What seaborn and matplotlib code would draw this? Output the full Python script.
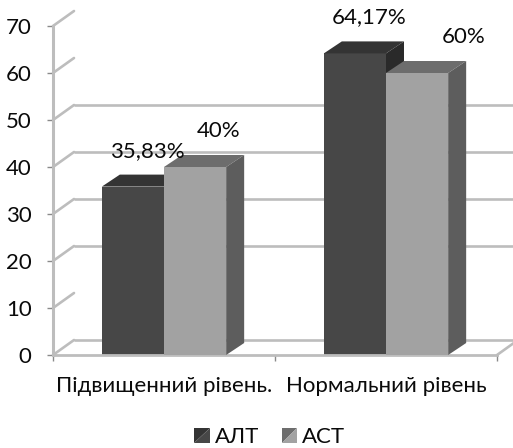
import matplotlib
matplotlib.use("Agg")
import matplotlib.pyplot as plt
from matplotlib.patches import Polygon, Patch
from matplotlib.legend_handler import HandlerBase
import pandas as pd
import seaborn as sns

# Data
levels = ["Підвищенний рівень.", "Нормальний рівень"]
enzymes = ["АЛТ", "АСТ"]
alt_values = [35.83, 64.17]
ast_values = [40.0, 60.0]
y_ticks = [0, 10, 20, 30, 40, 50, 60, 70]
wall_grid = [0, 20, 30, 40, 50]

# Styling
front_colors = ["#474747", "#a2a2a2"]
top_colors = ["#343434", "#6d6d6d"]
side_colors = ["#2a2a2a", "#5d5d5d"]
grid_color = "#bdbdbd"
label_shift_px = [[14, 14], [23, 47]]   # per hue, per category
FS = 16

sns.set_style("white")
plt.rcParams["font.family"] = ["Lato", "DejaVu Sans"]
plt.rcParams["text.color"] = "#0a0a0a"
plt.rcParams["ytick.labelcolor"] = "#0a0a0a"
plt.rcParams["xtick.labelcolor"] = "#0a0a0a"

df = pd.DataFrame({
    "level": levels * 2,
    "enzyme": [enzymes[0]] * len(levels) + [enzymes[1]] * len(levels),
    "value": alt_values + ast_values,
})

W, H = 513, 448
fig = plt.figure(figsize=(W / 100, H / 100), dpi=100)
ax = fig.add_axes([53 / W, (H - 355) / H, 444 / W, 329 / H])

sns.barplot(data=df, x="level", y="value", hue="enzyme", order=levels,
            hue_order=enzymes, palette=front_colors, width=0.56,
            saturation=1, errorbar=None, linewidth=0, legend=False, ax=ax)

ax.set_xlim(-0.5, 1.5)
ax.set_ylim(0, 70)

# pseudo-3D depth (data units)
px_x = 2.0 / 444
px_y = 70.0 / 329
bdx, bdy = 18 * px_x, 12 * px_y     # bar depth
wdx, wdy = 21 * px_x, 15 * px_y     # back wall offset

# back wall gridlines, left wall connectors and floor
for v in wall_grid:
    ax.plot([-0.5 + wdx, 1.5 + wdx], [v + wdy, v + wdy], color=grid_color,
            lw=1.9, zorder=0.5, clip_on=False, solid_capstyle="butt")
for v in y_ticks:
    ax.plot([-0.5, -0.5 + wdx], [v, v + wdy], color=grid_color, lw=1.9,
            zorder=0.5, clip_on=False, solid_capstyle="round")
ax.plot([1.5, 1.5 + wdx], [0, wdy], color=grid_color, lw=1.9, zorder=0.5,
        clip_on=False)

# top and side faces of every bar
for hi, cont in enumerate(ax.containers):
    z = 2 + hi
    for ci, rect in enumerate(cont):
        rect.set_zorder(z)
        x0, w, h = rect.get_x(), rect.get_width(), rect.get_height()
        top = Polygon([(x0, h), (x0 + w, h), (x0 + w + bdx, h + bdy),
                       (x0 + bdx, h + bdy)], closed=True,
                      facecolor=top_colors[hi], edgecolor="none", zorder=z,
                      clip_on=False)
        side = Polygon([(x0 + w, 0), (x0 + w + bdx, bdy),
                        (x0 + w + bdx, h + bdy), (x0 + w, h)], closed=True,
                       facecolor=side_colors[hi], edgecolor="none", zorder=z,
                       clip_on=False)
        ax.add_patch(top)
        ax.add_patch(side)
        txt = f"{h:.2f}".rstrip("0").rstrip(".").replace(".", ",") + "%"
        ax.annotate(txt, xy=(x0 + w / 2, h),
                    xytext=(label_shift_px[hi][ci] * 0.72, 30 * 0.72),
                    textcoords="offset points", ha="center", va="baseline",
                    fontsize=FS, zorder=6, annotation_clip=False)

# axes cosmetics
for s in ["top", "right"]:
    ax.spines[s].set_visible(False)
ax.spines["left"].set_color(grid_color)
ax.spines["left"].set_linewidth(2.2)
ax.spines["bottom"].set_color(grid_color)
ax.spines["bottom"].set_linewidth(2.0)

ax.set_yticks(y_ticks)
ax.tick_params(axis="y", which="major", length=4.5, width=1, color="#8a8a8a",
               labelsize=FS, pad=11, left=True)
ax.set_xticks([-0.5, 0.5, 1.5], minor=True)
ax.tick_params(axis="x", which="minor", length=4.5, width=1, color="#8a8a8a",
               bottom=True, direction="out")
ax.tick_params(axis="x", which="major", length=0, labelsize=FS, pad=15)
ax.set_xlabel("")
ax.set_ylabel("")


class BevelSquare(HandlerBase):
    """Legend key drawn as a square split along its diagonal."""

    def __init__(self, dark, light):
        super().__init__()
        self.dark, self.light = dark, light

    def create_artists(self, legend, orig_handle, xdescent, ydescent,
                       width, height, fontsize, trans):
        x0, y0 = -xdescent, -ydescent
        ul = Polygon([(x0, y0), (x0, y0 + height), (x0 + width, y0 + height)],
                     closed=True, facecolor=self.dark, edgecolor="none",
                     transform=trans)
        lr = Polygon([(x0, y0), (x0 + width, y0), (x0 + width, y0 + height)],
                     closed=True, facecolor=self.light, edgecolor="none",
                     transform=trans)
        return [ul, lr]


handles = [Patch(facecolor=c, edgecolor="none") for c in front_colors]
handler_map = {handles[i]: BevelSquare(top_colors[i], front_colors[i])
               for i in range(len(handles))}
fig.legend(handles=handles, labels=enzymes, loc="center",
           bbox_to_anchor=(270 / W, 1 - 437 / H), ncol=2, frameon=False,
           fontsize=FS, handlelength=0.68, handleheight=0.68,
           handletextpad=0.25, columnspacing=1.0, borderpad=0,
           handler_map=handler_map)

fig.savefig("out.png", dpi=100)
